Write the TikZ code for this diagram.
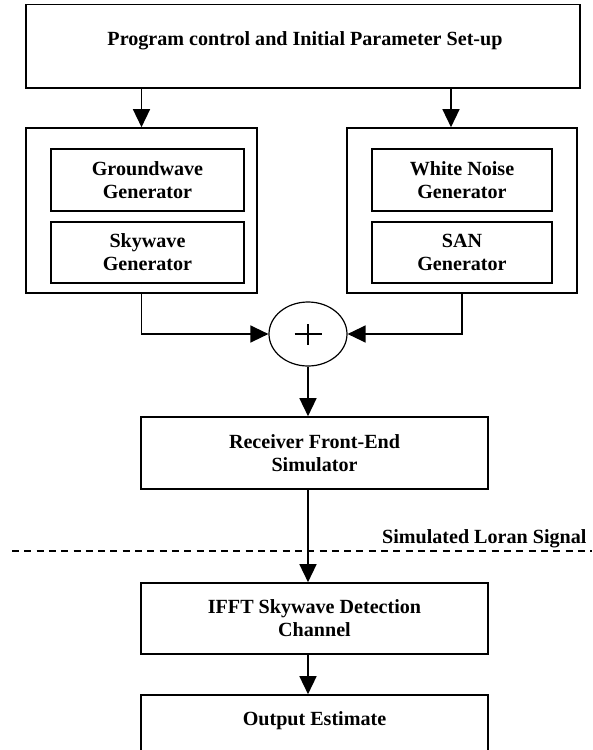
\documentclass[tikz,border=0pt]{standalone}
\usepackage{fontspec}
\setmainfont{Liberation Serif}
\usetikzlibrary{arrows.meta,shapes.geometric}

\tikzset{
  txt/.style={font=\fontsize{20.1}{23}\selectfont\bfseries, align=center},
  blockbox/.style={draw, line width=1.6pt, rectangle, inner sep=0pt, txt},
  arr/.style={line width=1.4pt, -{Triangle[length=18pt,width=17pt]}},
}

\begin{document}
\begin{tikzpicture}[x=1pt,y=-1pt]
\useasboundingbox (0,0) rectangle (592,750);
\clip (0,0) rectangle (592,750);

% program control block: box plus its heading near the top edge
\node[blockbox, minimum width=554pt, minimum height=83.4pt] (top) at (303,46.3) {};
\node[txt, anchor=base] (toptitle) at (305,45) {Program control and Initial Parameter Set-up};

% signal generator groups
\node[blockbox, minimum width=231pt, minimum height=165pt] (sig) at (141.5,210.5) {};
\node[blockbox, minimum width=230pt, minimum height=165pt] (noise) at (462,210.5) {};

\node[blockbox, minimum width=193pt, minimum height=62pt] (ground) at (147.5,180) {Groundwave\\Generator};
\node[blockbox, minimum width=193pt, minimum height=61pt] (sky) at (147.5,252.5) {Skywave\\Generator};
\node[blockbox, minimum width=180pt, minimum height=62pt] (white) at (462,180) {White Noise\\Generator};
\node[blockbox, minimum width=180pt, minimum height=61pt] (san) at (462,252.5) {SAN\\Generator};

% summing junction
\node[draw, ellipse, line width=1.2pt, minimum width=78pt, minimum height=64pt, inner sep=0pt] (sum) at (308,334) {};
\draw[line width=1.2pt] ([xshift=-13.5pt]sum.center) -- ([xshift=13.5pt]sum.center);
\draw[line width=1.2pt] ([yshift=-10.5pt]sum.center) -- ([yshift=10.5pt]sum.center);

% processing chain
\node[blockbox, minimum width=347pt, minimum height=72pt] (rx) at (314.5,453) {Receiver Front-End\\Simulator};
\node[blockbox, minimum width=347pt, minimum height=71pt] (ifft) at (314.5,618.5) {IFFT Skywave Detection\\Channel};
\node[blockbox, minimum width=347pt, minimum height=90pt] (out) at (314.5,740) {};
\node[txt, anchor=base] (outtitle) at (314.5,725.5) {Output Estimate};

% simulated signal boundary
\coordinate (dl) at (12,551);
\coordinate (dr) at (592,551);
\draw[line width=1.5pt, dash pattern=on 7pt off 5.3pt] (dl) -- (dr);
\node[txt, anchor=base east] (siglabel) at (590,543.5) {Simulated Loran Signal};

% connectors
\draw[arr] (sig.north |- top.south) -- (sig.north);
\draw[arr] ([xshift=-11pt]noise.north |- top.south) -- ([xshift=-11pt]noise.north);
\draw[arr] (sig.south) |- (sum.west);
\draw[arr] (noise.south) |- (sum.east);
\draw[arr] (sum.south) -- (sum.south |- rx.north);
\draw[arr] (rx.south -| sum.south) -- (ifft.north -| sum.south);
\draw[arr] (ifft.south -| sum.south) -- (out.north -| sum.south);
\end{tikzpicture}
\end{document}
